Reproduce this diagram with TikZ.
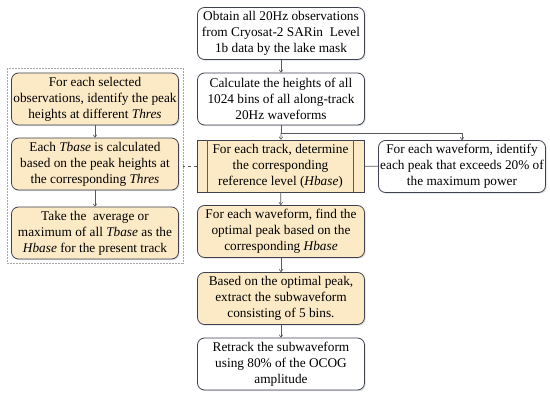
\documentclass[tikz,border=0pt]{standalone}
\usepackage{fontspec}
\setmainfont{Liberation Serif}
\usetikzlibrary{shadows,fit,arrows.meta}
\definecolor{boxfill}{RGB}{252,234,198}
\definecolor{boxline}{RGB}{62,66,80}
\definecolor{arrline}{RGB}{90,90,90}
\begin{document}
\begin{tikzpicture}[
    x=1pt, y=-1pt,
    box/.style={rectangle, rounded corners=7pt, draw=boxline, line width=0.8pt, fill=white,
        minimum width=167pt, minimum height=52pt, inner sep=1pt, align=center,
        font=\fontsize{13.3}{16}\selectfont,
        drop shadow={shadow xshift=1.2pt, shadow yshift=-1.2pt, fill=boxline!35}},
    ybox/.style={box, fill=boxfill},
    pbox/.style={ybox, rounded corners=0pt},
    arr/.style={-{To[length=3pt,width=4pt]}, draw=arrline, line width=0.6pt},
    link/.style={draw=arrline, line width=0.6pt},
]
    \useasboundingbox (0,0) rectangle (550,398);

    % Main flow
    \node[box] (obtain) at (281, 33.5) {Obtain all 20Hz observations\\from Cryosat-2 SARin\ \ Level\\1b data by the lake mask};
    \node[box] (calc) at (281, 99) {Calculate the heights of all\\1024 bins of all along-track\\20Hz waveforms};
    \node[pbox] (track) at (280.5, 166) {For each track, determine\\the corresponding\\reference level (\textit{Hbase})};
    \node[box] (peak) at (462, 166.5) {For each waveform, identify\\each peak that exceeds 20\% of\\the maximum power};
    \node[ybox] (optimal) at (281, 231.5) {For each waveform, find the\\optimal peak based on the\\corresponding \textit{Hbase}};
    \node[ybox] (extract) at (281, 298.5) {Based on the optimal peak,\\extract the subwaveform\\consisting of 5 bins.};
    \node[box] (retrack) at (281, 364) {Retrack the subwaveform\\using 80\% of the OCOG\\amplitude};

    % Process box side bars
    \draw[link] ([xshift=11pt]track.north west) -- ([xshift=11pt]track.south west);
    \draw[link] ([xshift=-11pt]track.north east) -- ([xshift=-11pt]track.south east);

    % Left group
    \node[ybox] (thres) at (95, 99) {For each selected\\observations, identify the peak\\heights at different \textit{Thres}};
    \node[ybox] (tbase) at (95, 164) {Each \textit{Tbase} is calculated\\based on the peak heights at\\the corresponding \textit{Thres}};
    \node[ybox] (hbase) at (95, 233) {Take the\ \ average or\\maximum of all \textit{Tbase} as the\\\textit{Hbase} for the present track};
    \node[draw=gray!70, dash pattern=on 2pt off 1pt, line width=0.5pt, inner sep=4pt, fit=(thres)(tbase)(hbase)] (group) {};

    % Connectors
    \coordinate (split) at (281, 133);
    \draw[arr] (obtain) -- (calc);
    \draw[link] (calc) -- (split);
    \draw[arr] (split) -- (track);
    \draw[arr] (split) -| (peak);
    \draw[link] (track) -- (peak);
    \draw[arr] (track) -- (optimal);
    \draw[arr] (optimal) -- (extract);
    \draw[arr] (extract) -- (retrack);
    \draw[arr] (thres) -- (tbase);
    \draw[arr] (tbase) -- (hbase);
    \draw[link, dashed] (track.west) -- (track.west -| group.east);
\end{tikzpicture}
\end{document}
